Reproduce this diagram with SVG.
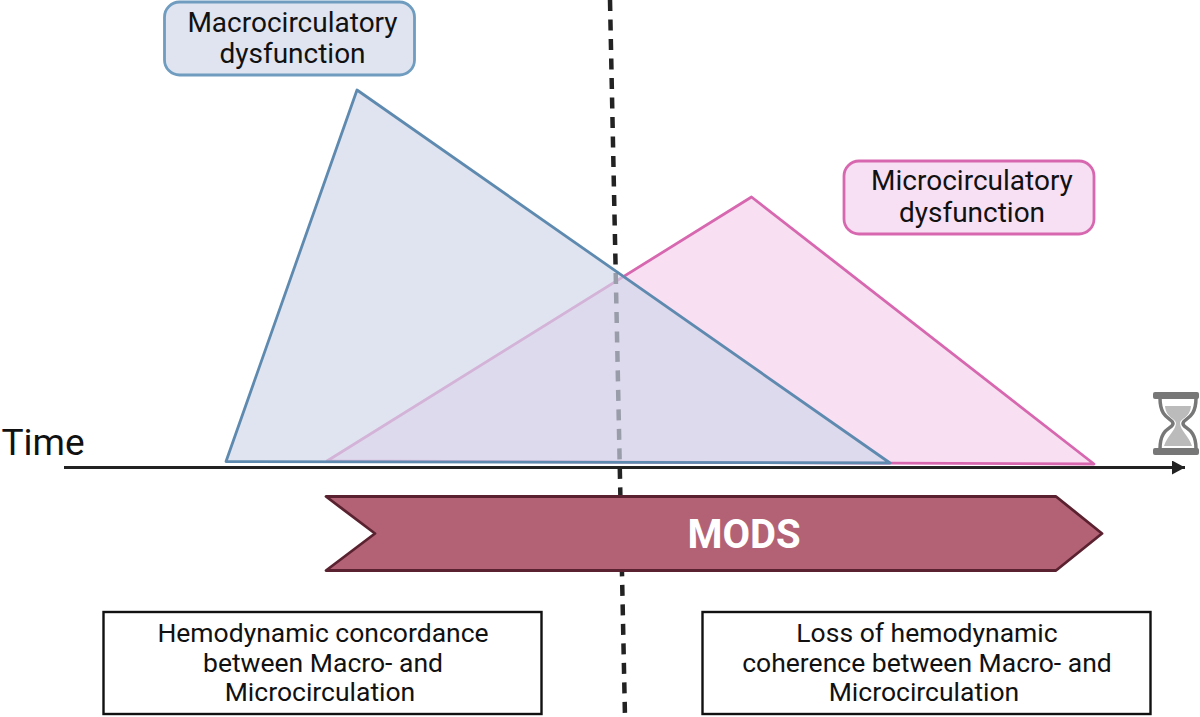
<svg xmlns="http://www.w3.org/2000/svg" width="1200" height="717" viewBox="0 0 1200 717">
<style>
text{font-family:Roboto,"Liberation Sans",sans-serif;fill:#111;text-anchor:middle}
.l{font-size:26.5px}
.h{font-size:28px}
.box{fill:#fff;stroke:#111;stroke-width:2.4}
</style>
<defs><marker id="arr" markerUnits="userSpaceOnUse" markerWidth="14" markerHeight="16" refX="13" refY="7" orient="auto"><path d="M0 0L13 7L0 14Z" fill="#222"/></marker></defs>
<rect width="1200" height="717" fill="#fff"/>
<g id="micro-shape"><path d="M327 461L751.500 197L1094 464Z" fill="#f2c4e8" fill-opacity=".55" stroke="#d768b0" stroke-width="2.800" stroke-linejoin="round"/></g>
<g id="connectors">
<path d="M610 0L625 717" fill="none" stroke="#222" stroke-width="4.500" stroke-dasharray="11 8.500"/>
<path d="M64 467.500H1185" fill="none" stroke="#222" stroke-width="2.800" marker-end="url(#arr)"/>
</g>
<g id="macro-shape"><path d="M226 461.500L357 90L890 463Z" fill="#d1d7ea" fill-opacity=".68" stroke="#5f8ab0" stroke-width="2.800" stroke-linejoin="round"/></g>
<g id="macro-label"><rect x="164.500" y="2" width="250" height="73" rx="15" fill="#dfe4f0" stroke="#6f9cbf" stroke-width="2.800"/><text class="h" x="292.500" y="32">Macrocirculatory</text><text class="h" x="292.500" y="63">dysfunction</text></g>
<g id="micro-label"><rect x="844" y="161" width="250" height="73" rx="15" fill="#f7e0f3" stroke="#d768b0" stroke-width="2.800"/><text class="h" x="972" y="190">Microcirculatory</text><text class="h" x="972" y="222">dysfunction</text></g>
<g id="time-label"><text x="43" y="455" font-size="37">Time</text></g>
<g id="hourglass">
<path d="M1160 398C1160 420 1173 418 1173 423.500C1173 429 1160 427 1160 449M1196 398C1196 420 1183 418 1183 423.500C1183 429 1196 427 1196 449" fill="none" stroke="#777" stroke-width="3.500"/>
<path d="M1165 406H1191C1190 418 1181 418 1180 423C1180 430 1189 436 1192 446H1164C1167 436 1176 430 1176 423C1175 418 1166 418 1165 406Z" fill="#bbb"/>
<rect x="1153" y="392" width="46" height="7" rx="2" fill="#777"/><rect x="1153" y="448" width="46" height="7" rx="2" fill="#777"/>
</g>
<g id="mods"><path d="M326 496.500H1056L1102 533.500L1056 570.500H326L375 533.500Z" fill="#b36275" stroke="#5a2230" stroke-width="2.800" stroke-linejoin="round"/><text x="744" y="548" font-size="40" font-weight="700" style="fill:#fff">MODS</text></g>
<g id="left-box"><rect class="box" x="103.500" y="612" width="438" height="102"/><text class="l" x="323" y="642">Hemodynamic concordance</text><text class="l" x="323" y="672">between Macro- and</text><text class="l" x="320" y="701">Microcirculation</text></g>
<g id="right-box"><rect class="box" x="702.500" y="612" width="448" height="102"/><text class="l" x="927" y="642">Loss of hemodynamic</text><text class="l" x="927" y="672">coherence between Macro- and</text><text class="l" x="924" y="701">Microcirculation</text></g>
</svg>
